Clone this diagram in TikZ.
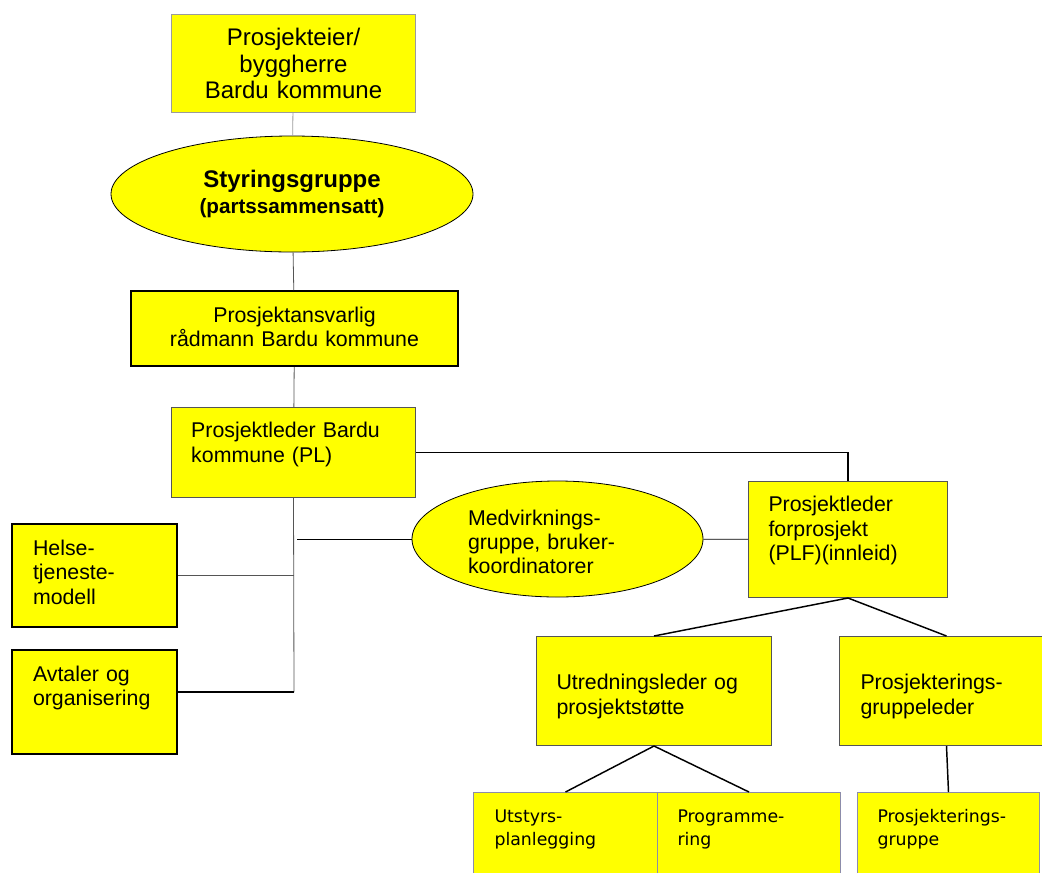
\documentclass[tikz,border=0pt]{standalone}
\usepackage{fontspec}
\setmainfont{Liberation Sans}
\newfontfamily\verdana{DejaVu Sans}
\usetikzlibrary{shapes.geometric}
\definecolor{gul}{RGB}{255,255,0}
\definecolor{kant}{RGB}{85,85,85}
\definecolor{lyskant}{RGB}{155,155,155}
\definecolor{blakant}{RGB}{140,140,170}
\begin{document}
\begin{tikzpicture}[x=0.75pt,y=-0.75pt,
  box/.style={draw=kant,line width=0.75pt,fill=gul,anchor=north west,inner ysep=0pt,align=left,
    font=\fontsize{16pt}{18.5pt}\selectfont},
  tykkbox/.style={box,draw=black,line width=1.5pt},
  lavbox/.style={box,draw=blakant,font=\verdana\fontsize{13pt}{17pt}\selectfont,
    text height=22.5pt,text depth=43.5pt,inner xsep=15pt},
  oval/.style={ellipse,draw=black,line width=0.6pt,fill=gul,align=center},
  tynn/.style={draw=kant,line width=0.6pt},
  tykk/.style={draw=black,line width=1.1pt}]
\useasboundingbox (0,0) rectangle (1042,872);
\node[box,draw=lyskant,align=center,text width=183pt,inner xsep=0pt,text height=23.25pt,text depth=50.25pt,
  font=\fontsize{18pt}{20pt}\selectfont] (eier) at (171,14) {Prosjekteier/\\byggherre\\Bardu kommune};
\node[oval,minimum width=271.5pt,minimum height=87pt,text width=180pt,text height=16.75pt,text depth=26.25pt] (styr) at (292,194)
  {\bfseries\fontsize{18pt}{19.2pt}\selectfont Styringsgruppe\\[3.5pt]\fontsize{15.5pt}{19.2pt}\selectfont(partssammensatt)};
\node[tykkbox,align=center,text width=245.25pt,inner xsep=0pt,text height=23.8pt,text depth=32.5pt,
  font=\fontsize{16pt}{17.5pt}\selectfont] (ansv) at (130,290) {Prosjektansvarlig\\rådmann Bardu kommune};
\node[box,text width=153.4pt,inner xsep=14.8pt,text height=22.5pt,text depth=45pt] (pl) at (171,407)
  {Prosjektleder Bardu\\kommune (PL)};
\node[tykkbox,text width=92.25pt,inner xsep=15.75pt,text height=23.25pt,text depth=54pt] (helse) at (11,523)
  {Helse-\\tjeneste-\\modell};
\node[tykkbox,text width=92.25pt,inner xsep=15.75pt,text height=23.25pt,text depth=54.75pt] (avt) at (11,649)
  {Avtaler og\\organisering};
\node[oval,align=left,minimum width=218.25pt,minimum height=87pt,text width=134.25pt,text height=12pt,text depth=33pt,
  font=\fontsize{16pt}{18.2pt}\selectfont] (medv) at (557.5,539) {Medvirknings-\\gruppe, bruker-\\koordinatorer};
\node[box,text width=119.25pt,inner xsep=15pt,text height=22.5pt,text depth=64.5pt] (plf) at (748,481)
  {Prosjektleder\\forprosjekt\\(PLF)(innleid)};
\node[box,text width=146.25pt,inner xsep=15pt,text height=39.75pt,text depth=42pt,
  font=\fontsize{16pt}{19pt}\selectfont] (utr) at (536,636) {Utredningsleder og\\prosjektstøtte};
\node[box,text width=129pt,inner xsep=15.75pt,text height=39.75pt,text depth=42pt,
  font=\fontsize{16pt}{19pt}\selectfont] (gl) at (839,636) {Prosjekterings-\\gruppeleder};
\node[lavbox,text width=106.5pt,inner xsep=15.75pt] (utst) at (473,792) {Utstyrs-\\planlegging};
\node[lavbox,text width=107.25pt] (prog) at (657,792) {Programme-\\ring};
\node[lavbox,text width=106.5pt] (pg) at (857,792) {Prosjekterings-\\gruppe};
\coordinate (gren) at (297,539);
\coordinate (knekk) at (294,692);
\draw[tynn,draw=lyskant] (eier) -- (styr);
\draw[tynn] (styr) -- (ansv);
\draw[tynn] (ansv) -- (pl);
\draw[tykk] (pl.east) -| (plf.north);
\draw[tynn] (pl.south) -- (knekk);
\draw[tykk] (knekk) -- (avt.east |- knekk);
\draw[tynn] (helse.east) -- (helse.east -| knekk);
\draw[tynn,draw=black] (gren) -- (medv);
\draw[tynn,draw=black] (medv) -- (plf);
\draw[tykk] (plf.south) -- (utr.north);
\draw[tykk] (plf.south) -- (gl.north);
\draw[tykk] (utr.south) -- (utst.north);
\draw[tykk] (utr.south) -- (prog.north);
\draw[tykk] (gl.south) -- (pg.north);
\end{tikzpicture}
\end{document}
